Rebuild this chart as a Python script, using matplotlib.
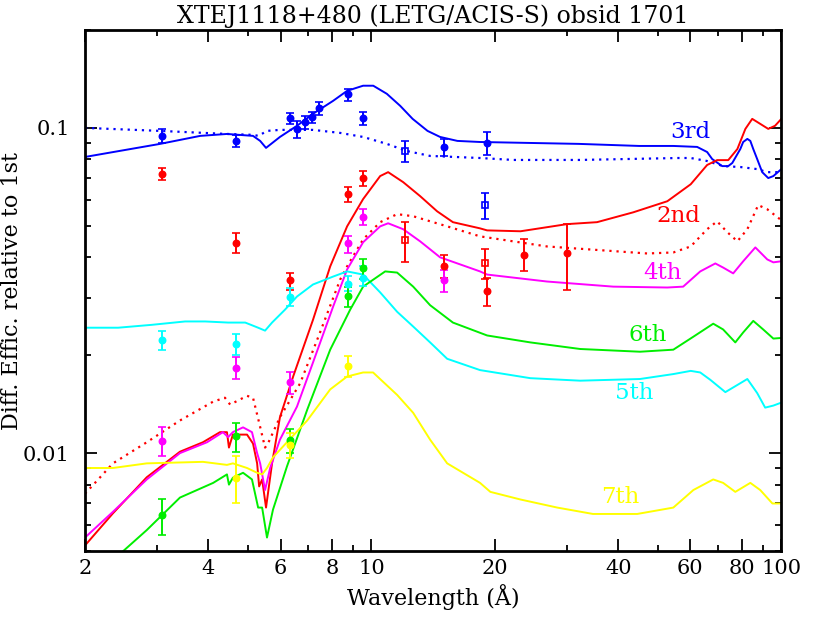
import numpy as np
import matplotlib
matplotlib.use("Agg")
import matplotlib.pyplot as plt
from matplotlib.ticker import FixedLocator, NullFormatter

plt.rcParams['font.family'] = ['DejaVu Serif']

# ---- model curves (wavelength in A, efficiency relative to 1st order) ----
wl_3rd = [2.0, 3.05, 3.82, 4.44, 5.14, 5.35, 5.53, 5.98, 6.58, 7.2, 8.06, 8.72, 9.54, 10.1,
          10.9, 11.75, 12.6, 13.7, 14.7, 16.2, 18.4, 32, 45, 54.5, 62.3, 65.9, 67.8, 71.7,
          74.2, 75.9, 79.4, 80.7, 82.6, 84.0, 85.4, 87.3, 89.8, 92.9, 95.6, 100]
eff_3rd = [0.0814, 0.0893, 0.0945, 0.0958, 0.0945, 0.0912, 0.0868, 0.0938, 0.1015, 0.1105,
           0.1211, 0.130, 0.1348, 0.1348, 0.1273, 0.1169, 0.1066, 0.0979, 0.0938, 0.0912,
           0.0905, 0.0893, 0.0880, 0.0880, 0.0874, 0.0843, 0.0802, 0.0763, 0.0763, 0.0780,
           0.0861, 0.0905, 0.0925, 0.0912, 0.0861, 0.0802, 0.0731, 0.0701, 0.0711, 0.0747]

wl_3rd_dot = [2.0, 3.05, 4.44, 5.14, 5.3, 5.56, 5.98, 7.2, 8.39, 9.54, 10.9, 12.2, 13.9, 18.4,
              22.2, 32.3, 56.1, 60.1, 65.9, 72.1, 79.4, 87.3, 92.4, 100]
eff_3rd_dot = [0.1, 0.0979, 0.0958, 0.0952, 0.0945, 0.0979, 0.0986, 0.0986, 0.0965, 0.0938,
               0.0893, 0.0849, 0.0820, 0.0808, 0.0797, 0.0797, 0.0808, 0.0808, 0.0791,
               0.0763, 0.0758, 0.0747, 0.0731, 0.0731]

wl_2nd = [2.0, 2.34, 2.83, 3.41, 3.88, 4.27, 4.44, 4.49, 4.59, 4.97, 5.14, 5.26, 5.32, 5.41,
          5.53, 5.72, 5.98, 6.44, 7.2, 7.93, 8.72, 9.54, 10.5, 10.98, 11.95, 13.14, 14.46,
          15.8, 18.4, 19.15, 23.1, 30.0, 35.5, 43.5, 52.7, 60.1, 65.9, 69.7, 74.2, 78.1,
          81.7, 84.9, 88.8, 92.9, 96.5, 100]
eff_2nd = [0.0052, 0.00653, 0.00843, 0.0101, 0.0108, 0.0116, 0.0116, 0.0104, 0.0114, 0.0114,
           0.0107, 0.0093, 0.0079, 0.0083, 0.0068, 0.0093, 0.0129, 0.0172, 0.0257, 0.0375,
           0.0498, 0.0604, 0.0711, 0.0731, 0.0681, 0.0617, 0.0554, 0.0513, 0.0491, 0.0484,
           0.0481, 0.0506, 0.0513, 0.0550, 0.0595, 0.0671, 0.0769, 0.0796, 0.0796, 0.0861,
           0.0993, 0.1066, 0.1029, 0.0993, 0.1015, 0.1066]

wl_2nd_dot = [2.0, 2.34, 2.83, 3.41, 4.11, 4.39, 4.52, 4.97, 5.14, 5.32, 5.5, 5.59, 5.98,
              6.7, 7.49, 8.39, 8.72, 9.54, 10.5, 11.55, 12.64, 15.3, 18.4, 26.8, 47.1, 54.5,
              60.1, 65.9, 69.7, 73.8, 78.1, 82.6, 87.8, 92.4, 100]
eff_2nd_dot = [0.0075, 0.0093, 0.0108, 0.0126, 0.0144, 0.0148, 0.0141, 0.0150, 0.0148,
               0.0124, 0.0104, 0.0107, 0.0129, 0.0164, 0.0235, 0.0342, 0.0375, 0.0454,
               0.0513, 0.0543, 0.0535, 0.0498, 0.0464, 0.0432, 0.0411, 0.0414, 0.0432,
               0.0488, 0.0516, 0.0478, 0.0448, 0.0488, 0.0579, 0.0562, 0.0520]

wl_4th = [2.0, 2.34, 2.83, 3.41, 3.97, 4.34, 4.47, 4.59, 4.86, 5.11, 5.26, 5.35, 5.5, 5.66,
          5.98, 6.58, 7.2, 8.06, 8.72, 9.54, 10.5, 10.98, 11.95, 13.14, 14.7, 18.4, 19.15,
          26.8, 38.9, 52.7, 57.6, 63.4, 69.0, 72.1, 76.3, 80.7, 86.4, 92.4, 95.6, 100]
eff_4th = [0.0055, 0.0066, 0.0083, 0.0100, 0.0108, 0.0116, 0.0112, 0.0116, 0.0120, 0.0116,
           0.0100, 0.0093, 0.0077, 0.0090, 0.0110, 0.0139, 0.0190, 0.0282, 0.0367, 0.0445,
           0.0498, 0.0509, 0.0488, 0.0448, 0.0400, 0.0362, 0.0354, 0.0337, 0.0325, 0.0323,
           0.0325, 0.0362, 0.0383, 0.0372, 0.0357, 0.0389, 0.0429, 0.0394, 0.0386, 0.0389]

wl_5th = [2.0, 2.41, 2.91, 3.51, 3.93, 4.47, 4.92, 5.29, 5.5, 5.72, 6.15, 6.58, 7.2, 8.06,
          8.72, 9.54, 10.5, 11.55, 12.64, 13.9, 15.3, 18.4, 24.4, 32.3, 45.2, 54.5, 60.1,
          63.4, 67.1, 73.0, 78.1, 82.6, 87.3, 91.3, 95.6, 100]
eff_5th = [0.0243, 0.0243, 0.0248, 0.0254, 0.0254, 0.0252, 0.0252, 0.0243, 0.0238, 0.0252,
           0.0276, 0.0303, 0.0330, 0.0349, 0.0362, 0.0354, 0.0312, 0.0272, 0.0245, 0.0219,
           0.0195, 0.0180, 0.0170, 0.0167, 0.0169, 0.0175, 0.0179, 0.0177, 0.0168, 0.0154,
           0.0162, 0.0169, 0.0153, 0.0138, 0.0140, 0.0143]

wl_6th = [2.48, 2.83, 3.41, 4.11, 4.44, 4.49, 4.59, 4.86, 5.11, 5.29, 5.41, 5.56, 5.75, 6.22,
          6.97, 7.93, 8.87, 9.54, 10.8, 11.55, 12.64, 13.9, 15.8, 19.15, 24.4, 32.3, 45.2,
          54.5, 61.0, 68.2, 72.1, 77.2, 80.7, 85.4, 90.3, 95.6, 100]
eff_6th = [0.0050, 0.0058, 0.0073, 0.0081, 0.0086, 0.0080, 0.0084, 0.0087, 0.0083, 0.0068,
           0.0068, 0.0055, 0.0067, 0.0091, 0.0136, 0.0208, 0.0276, 0.0325, 0.0362, 0.0359,
           0.0325, 0.0285, 0.0252, 0.0230, 0.0219, 0.0209, 0.0205, 0.0208, 0.0228, 0.0250,
           0.0240, 0.0219, 0.0235, 0.0255, 0.0240, 0.0225, 0.0226]

wl_7th = [2.0, 2.34, 2.83, 3.88, 4.44, 4.59, 4.97, 5.26, 5.41, 5.56, 5.75, 6.22, 6.97, 7.93,
          8.72, 9.54, 10.09, 11.55, 12.64, 13.9, 15.3, 18.4, 19.5, 23.1, 28.4, 34.7, 44.5,
          54.5, 61.0, 68.2, 72.1, 77.2, 84.0, 88.8, 95.1, 100]
eff_7th = [0.0090, 0.0090, 0.0093, 0.0094, 0.0092, 0.0093, 0.0090, 0.0087, 0.0086, 0.0090,
           0.0097, 0.0108, 0.0126, 0.0157, 0.0172, 0.0177, 0.0177, 0.0151, 0.0133, 0.0110,
           0.0093, 0.0081, 0.0076, 0.0072, 0.0068, 0.0065, 0.0065, 0.0068, 0.0077, 0.0083,
           0.0081, 0.0076, 0.0081, 0.0077, 0.0070, 0.0070]

# ---- measured points: wavelength, value, lower, upper ----
pt3_wl = [3.09, 4.67, 6.33, 6.57, 6.89, 7.17, 7.46, 8.75, 9.56, 14.99, 19.1]
pt3_y = [0.0947, 0.0914, 0.1071, 0.0993, 0.1041, 0.1079, 0.1150, 0.1267, 0.1071, 0.0872, 0.0899]
pt3_lo = [0.0897, 0.0876, 0.1029, 0.0931, 0.0993, 0.1036, 0.1097, 0.1211, 0.1022, 0.0818, 0.0825]
pt3_hi = [0.0993, 0.0952, 0.1113, 0.1049, 0.1087, 0.1123, 0.1200, 0.1313, 0.1123, 0.0925, 0.0974]
sq3_wl = [12.1, 18.9]
sq3_y = [0.0848, 0.0579]
sq3_lo = [0.0783, 0.0524]
sq3_hi = [0.0914, 0.0629]

pt2_wl = [3.09, 4.67, 6.33, 8.75, 9.56, 14.99, 19.1, 23.5, 30.0]
pt2_y = [0.0721, 0.0444, 0.0340, 0.0626, 0.0701, 0.0376, 0.0315, 0.0408, 0.0413]
pt2_lo = [0.0691, 0.0413, 0.0318, 0.0592, 0.0664, 0.0346, 0.0283, 0.0363, 0.0318]
pt2_hi = [0.0751, 0.0474, 0.0359, 0.0659, 0.0738, 0.0408, 0.0346, 0.0454, 0.0506]
sq2_wl = [12.1, 18.9]
sq2_y = [0.0451, 0.0383]
sq2_lo = [0.0388, 0.0342]
sq2_hi = [0.0515, 0.0423]

pt4_wl = [3.09, 4.67, 6.33, 8.75, 9.56, 14.99]
pt4_y = [0.0109, 0.0183, 0.0166, 0.0444, 0.0534, 0.0340]
pt4_lo = [0.0098, 0.0169, 0.0152, 0.0413, 0.0502, 0.0313]
pt4_hi = [0.0120, 0.0197, 0.0178, 0.0465, 0.0562, 0.0365]

pt5_wl = [3.09, 4.67, 6.33, 8.75, 9.56]
pt5_y = [0.0223, 0.0217, 0.0302, 0.0332, 0.0346]
pt5_lo = [0.0207, 0.0201, 0.0283, 0.0315, 0.0326]
pt5_hi = [0.0238, 0.0232, 0.0322, 0.0350, 0.0376]

pt6_wl = [3.09, 4.67, 6.33, 8.75, 9.56]
pt6_y = [0.00644, 0.01129, 0.01097, 0.0304, 0.0372]
pt6_lo = [0.00562, 0.0101, 0.00998, 0.0282, 0.0344]
pt6_hi = [0.00725, 0.0124, 0.01186, 0.0324, 0.0396]

pt7_wl = [4.67, 6.33, 8.75]
pt7_y = [0.00839, 0.01058, 0.0185]
pt7_lo = [0.00704, 0.00963, 0.0171]
pt7_hi = [0.00979, 0.0115, 0.0199]

order_labels = ['3rd', '2nd', '4th', '6th', '5th', '7th']
label_wl = [60.0, 56.1, 51.2, 47.3, 43.8, 40.4]
label_eff = [0.0972, 0.0535, 0.0359, 0.0231, 0.0153, 0.00731]

BLUE, RED, MAG, GRN, CYN, YEL = '#0000ff', '#ff0000', '#ff00ff', '#00ee00', '#00ffff', '#ffff00'
label_colors = [BLUE, RED, MAG, GRN, CYN, YEL]

fig = plt.figure(figsize=(8.3, 6.21), dpi=100)
ax = fig.add_axes([0.1024, 0.1127, 0.839, 0.839])

lw = 1.4
dots = (0, (1, 2.2))
ax.plot(wl_3rd, eff_3rd, color=BLUE, lw=lw)
ax.plot(wl_3rd_dot, eff_3rd_dot, color=BLUE, lw=1.6, ls=dots)
ax.plot(wl_2nd, eff_2nd, color=RED, lw=lw)
ax.plot(wl_2nd_dot, eff_2nd_dot, color=RED, lw=1.6, ls=dots)
ax.plot(wl_4th, eff_4th, color=MAG, lw=lw)
ax.plot(wl_5th, eff_5th, color=CYN, lw=lw)
ax.plot(wl_6th, eff_6th, color=GRN, lw=lw)
ax.plot(wl_7th, eff_7th, color=YEL, lw=lw)


def points(wl, y, lo, hi, color, marker='o', filled=True):
    y = np.array(y)
    yerr = [y - np.array(lo), np.array(hi) - y]
    ax.errorbar(wl, y, yerr=yerr, fmt=marker, color=color, ms=4.5,
                mfc=color if filled else 'none', mec=color, mew=1.2,
                elinewidth=1.4, capsize=3, capthick=1.4)


points(pt3_wl, pt3_y, pt3_lo, pt3_hi, BLUE)
points(sq3_wl, sq3_y, sq3_lo, sq3_hi, BLUE, 's', False)
points(pt2_wl, pt2_y, pt2_lo, pt2_hi, RED)
points(sq2_wl, sq2_y, sq2_lo, sq2_hi, RED, 's', False)
points(pt4_wl, pt4_y, pt4_lo, pt4_hi, MAG)
points(pt5_wl, pt5_y, pt5_lo, pt5_hi, CYN)
points(pt6_wl, pt6_y, pt6_lo, pt6_hi, GRN)
points(pt7_wl, pt7_y, pt7_lo, pt7_hi, YEL)

for txt, x, y, c in zip(order_labels, label_wl, label_eff, label_colors):
    ax.text(x, y, txt, color=c, fontsize=16.5, ha='center', va='center')

ax.set_xscale('log')
ax.set_yscale('log')
ax.set_xlim(2, 100)
ax.set_ylim(0.005, 0.2)

ax.xaxis.set_major_locator(FixedLocator([2, 4, 6, 8, 10, 20, 40, 60, 80, 100]))
ax.xaxis.set_minor_locator(FixedLocator([3, 5, 7, 9, 30, 50, 70, 90]))
ax.set_xticklabels(['2', '4', '6', '8', '10', '20', '40', '60', '80', '100'])
ax.xaxis.set_minor_formatter(NullFormatter())
ax.yaxis.set_major_locator(FixedLocator([0.01, 0.1]))
ax.yaxis.set_minor_locator(FixedLocator([0.005, 0.006, 0.007, 0.008, 0.009, 0.02, 0.03,
                                         0.04, 0.05, 0.06, 0.07, 0.08, 0.09, 0.2]))
ax.set_yticklabels(['0.01', '0.1'])
ax.yaxis.set_minor_formatter(NullFormatter())

ax.tick_params(which='both', direction='in', top=True, right=True, width=1.3, labelsize=15)
ax.tick_params(which='major', length=8.5)
ax.tick_params(which='minor', length=4.2)
ax.tick_params(axis='x', which='major', pad=6)
ax.tick_params(axis='y', which='major', pad=11)
for s in ax.spines.values():
    s.set_linewidth(2)

ax.set_xlabel('Wavelength (Å)', fontsize=16, labelpad=4)
ax.set_ylabel('Diff. Effic. relative to 1st', fontsize=16, va='center')
ax.yaxis.set_label_coords(-0.105, 0.5)
ax.set_title('XTEJ1118+480 (LETG/ACIS-S) obsid 1701', fontsize=17, pad=5)

fig.savefig('out.png', dpi=100)
